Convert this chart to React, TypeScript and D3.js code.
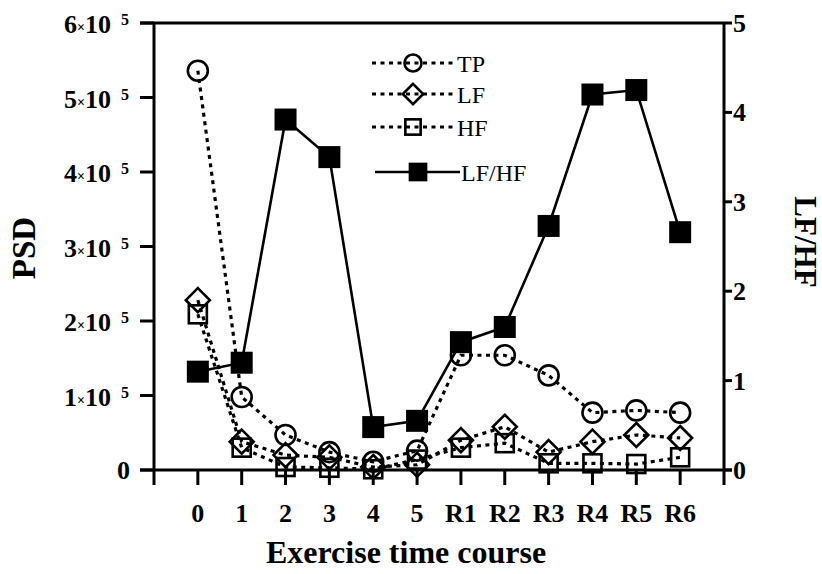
import React from 'react';
import * as d3 from 'd3';

// categories along the exercise time course
const stages = ['0', '1', '2', '3', '4', '5', 'R1', 'R2', 'R3', 'R4', 'R5', 'R6'];

// PSD series (left axis)
const tp = [5.36e5, 0.98e5, 0.47e5, 0.24e5, 0.11e5, 0.26e5, 1.54e5, 1.54e5, 1.27e5, 0.77e5, 0.8e5, 0.77e5];
const lf = [2.28e5, 0.38e5, 0.2e5, 0.17e5, 0.04e5, 0.07e5, 0.4e5, 0.58e5, 0.24e5, 0.38e5, 0.47e5, 0.43e5];
const hf = [2.09e5, 0.3e5, 0.04e5, 0.03e5, 0.01e5, 0.14e5, 0.3e5, 0.36e5, 0.09e5, 0.09e5, 0.08e5, 0.17e5];

// ratio series (right axis)
const lfhf = [1.1, 1.2, 3.92, 3.5, 0.48, 0.55, 1.43, 1.6, 2.73, 4.2, 4.25, 2.66];

const leftTicks = [0, 1, 2, 3, 4, 5, 6];
const rightTicks = [0, 1, 2, 3, 4, 5];

const FONT = "'Liberation Serif', 'DejaVu Serif', serif";

export default function App() {
  const left = 154;
  const right = 724;
  const top = 23;
  const bottom = 470;

  const x = d3.scalePoint<string>().domain(stages).range([left, right]).padding(1);
  const yL = d3.scaleLinear().domain([0, 6e5]).range([bottom, top]);
  const yR = d3.scaleLinear().domain([0, 5]).range([bottom, top]);

  const lineL = (vals: number[]) =>
    d3.line<number>().x((_, i) => x(stages[i]) as number).y((v) => yL(v))(vals) as string;
  const lineR = d3.line<number>().x((_, i) => x(stages[i]) as number).y((v) => yR(v))(lfhf) as string;

  const dotted = { fill: 'none', stroke: '#000', strokeWidth: 3.2, strokeDasharray: '4,4.5' };

  const circle = (cx: number, cy: number, k: string, s = 1) => (
    <circle key={k} cx={cx} cy={cy} r={10 * s} fill="none" stroke="#000" strokeWidth={2.6} />
  );
  const diamond = (cx: number, cy: number, k: string, s = 1) => {
    const h = 12 * s;
    return (
      <path key={k} d={`M${cx},${cy - h}L${cx + h},${cy}L${cx},${cy + h}L${cx - h},${cy}Z`}
        fill="none" stroke="#000" strokeWidth={2.6} />
    );
  };
  const square = (cx: number, cy: number, k: string, s = 1) => (
    <rect key={k} x={cx - 9 * s} y={cy - 9 * s} width={18 * s} height={18 * s}
      fill="none" stroke="#000" strokeWidth={2.6} />
  );
  const filled = (cx: number, cy: number, k: string, s = 1) => (
    <rect key={k} x={cx - 11 * s} y={cy - 11 * s} width={22 * s} height={22 * s} fill="#000" />
  );

  const legend = [
    { label: 'TP', mark: circle, solid: false },
    { label: 'LF', mark: diamond, solid: false },
    { label: 'HF', mark: square, solid: false },
    { label: 'LF/HF', mark: filled, solid: true },
  ];
  const legendY = [63, 94, 127, 172];

  return (
    <svg width={822} height={574} style={{ position: 'absolute', left: 0, top: 0, background: '#fff', fontFamily: FONT }}>
      {/* frame: left, right, top, bottom */}
      <line x1={left} y1={top} x2={left} y2={bottom + 15} stroke="#000" strokeWidth={3} />
      <line x1={right} y1={top} x2={right} y2={bottom + 15} stroke="#000" strokeWidth={3} />
      <line x1={left - 14} y1={top} x2={right} y2={top} stroke="#000" strokeWidth={3} />
      <line x1={left - 14} y1={bottom} x2={right + 8} y2={bottom} stroke="#000" strokeWidth={3} />

      {/* left axis */}
      {leftTicks.map((t) => (
        <g key={t} transform={`translate(0,${yL(t * 1e5)})`}>
          <line x1={left - 14} x2={left} stroke="#000" strokeWidth={3} />
          {t === 0 ? (
            <text x={130} y={9} textAnchor="end" fontSize={26} fontWeight="bold">0</text>
          ) : (
            <text x={64} y={10} fontSize={26} fontWeight="bold">
              {t}<tspan fontSize={14} dy={-1}>×</tspan><tspan dy={1}>10</tspan>
              <tspan fontSize={16} dx={10} dy={-8}>5</tspan>
            </text>
          )}
        </g>
      ))}

      {/* right axis */}
      {rightTicks.map((t) => (
        <g key={t} transform={`translate(0,${yR(t)})`}>
          <line x1={right} x2={right + 8} stroke="#000" strokeWidth={3} />
          <text x={733} y={9} fontSize={26} fontWeight="bold">{t}</text>
        </g>
      ))}

      {/* bottom axis */}
      {stages.map((s) => (
        <g key={s} transform={`translate(${x(s)},0)`}>
          <line y1={bottom} y2={bottom + 15} stroke="#000" strokeWidth={3} />
          <text y={522} textAnchor="middle" fontSize={26} fontWeight="bold">{s}</text>
        </g>
      ))}

      <text x={406} y={563} textAnchor="middle" fontSize={32} fontWeight="bold">Exercise time course</text>
      <text transform="translate(35,248) rotate(-90)" textAnchor="middle" fontSize={33} fontWeight="bold">PSD</text>
      <text transform="translate(795,242) rotate(90)" textAnchor="middle" fontSize={31} fontWeight="bold">LF/HF</text>

      {/* series */}
      <path d={lineL(hf)} {...dotted} />
      <path d={lineL(lf)} {...dotted} />
      <path d={lineL(tp)} {...dotted} />
      <path d={lineR} fill="none" stroke="#000" strokeWidth={2.6} />

      {hf.map((v, i) => square(x(stages[i]) as number, yL(v), 'h' + i))}
      {lf.map((v, i) => diamond(x(stages[i]) as number, yL(v), 'l' + i))}
      {tp.map((v, i) => circle(x(stages[i]) as number, yL(v), 't' + i))}
      {lfhf.map((v, i) => filled(x(stages[i]) as number, yR(v), 'r' + i))}

      {/* legend */}
      {legend.map((d, i) => (
        <g key={d.label} transform={`translate(0,${legendY[i]})`}>
          {d.solid ? (
            <line x1={375} x2={460} stroke="#000" strokeWidth={2.6} />
          ) : (
            <line x1={372} x2={454} {...dotted} />
          )}
          {d.mark(d.solid ? 418 : 413, 0, 'm', 0.85)}
          <text x={d.solid ? 461 : 457} y={9} fontSize={24}>{d.label}</text>
        </g>
      ))}
    </svg>
  );
}
